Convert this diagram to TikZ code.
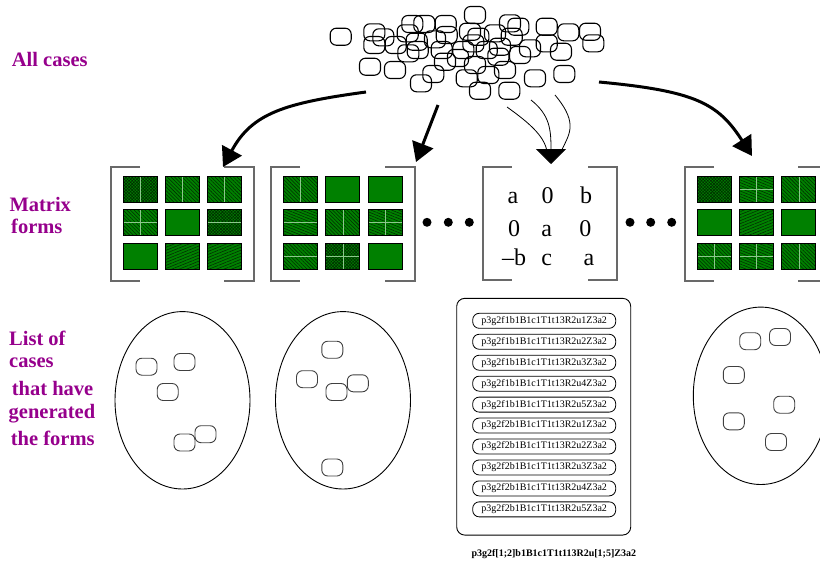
\documentclass[tikz,border=0pt]{standalone}
\usepackage{fontspec}
\setmainfont{Liberation Serif}
\usetikzlibrary{arrows.meta,patterns,patterns.meta,shapes.geometric}
\definecolor{cgreen}{RGB}{0,128,0}
\definecolor{cdark}{RGB}{0,45,0}
\definecolor{clight}{RGB}{140,200,140}
\definecolor{lblpurple}{RGB}{150,0,140}
\definecolor{brgray}{RGB}{105,105,105}
\begin{document}
\begin{tikzpicture}[x=1pt,y=-1pt,
  lbl/.style={anchor=base west,inner sep=0pt,text=lblpurple,font=\bfseries\fontsize{20.5}{23}\selectfont},
  cbox/.style={draw=black,line width=1.1pt,rounded corners=6pt,minimum width=21pt,minimum height=17pt,inner sep=0pt},
  ebox/.style={draw=black!75,line width=0.9pt,rounded corners=6pt,minimum width=21pt,minimum height=17pt,inner sep=0pt},
  cellbox/.style={draw=black,line width=0.8pt,minimum width=34pt,minimum height=26pt,inner sep=0pt,preaction={fill=cgreen}},
  fplain/.style={},
  fnw/.style={pattern={Lines[angle=-45,distance=2.6pt,line width=0.55pt]},pattern color=cdark},
  fsnw/.style={pattern={Lines[angle=-22,distance=2.6pt,line width=0.55pt]},pattern color=cdark},
  fsne/.style={pattern={Lines[angle=22,distance=2.8pt,line width=0.55pt]},pattern color=cdark},
  fhx/.style={pattern={Hatch[angle=45,distance=2.2pt,line width=0.6pt]},pattern color=cdark},
  lnone/.style={},
  lv/.style={path picture={\draw[clight,line width=0.5pt] (path picture bounding box.north)--(path picture bounding box.south);}},
  lh/.style={path picture={\draw[clight,line width=0.5pt] (path picture bounding box.west)--(path picture bounding box.east);}},
  lvh/.style={path picture={\draw[clight,line width=0.5pt] (path picture bounding box.north)--(path picture bounding box.south) (path picture bounding box.west)--(path picture bounding box.east);}},
  brk/.style={draw=brgray,line width=1.8pt},
  bigarrow/.style={line width=3pt,-{Triangle[width=22pt,length=19pt]}},
  thinline/.style={line width=0.8pt},
  dotnode/.style={circle,fill=black,minimum size=9pt,inner sep=0pt},
  mtx/.style={anchor=base,font=\fontsize{24}{28}\selectfont,inner sep=0pt},
  pill/.style={draw=black,line width=0.8pt,rounded corners=6.5pt,minimum width=143pt,minimum height=15pt,inner sep=0pt,font=\fontsize{10}{12}\selectfont},
  listbox/.style={draw=black,line width=0.9pt,rounded corners=8pt,minimum width=174pt,minimum height=236.7pt,inner sep=0pt},
  oval/.style={ellipse,draw=black,line width=0.9pt,minimum width=135pt,minimum height=177.4pt,inner sep=0pt}
]
\useasboundingbox (0,0) rectangle (820,565);

% labels
\node[lbl] (lab1) at (11.7,66) {All cases};
\node[lbl] (lab2) at (9.3,211.7) {Matrix};
\node[lbl] (lab3) at (11,233.3) {forms};
\node[lbl] (lab4) at (9,345) {List of};
\node[lbl] (lab5) at (9,367.7) {cases};
\node[lbl] (lab6) at (11.7,395) {that have};
\node[lbl] (lab7) at (8.5,418.3) {generated};
\node[lbl] (lab8) at (10.7,445.7) {the forms};

% cloud of cases
\foreach \p [count=\i] in {
 {340.7,36.7},{374.3,32.3},{383.3,37.3},{374.3,45},{395.7,45},{412.3,24},{424.3,24},{445.7,24},
 {407.7,33.3},{416.7,41.7},{408.3,53.3},{417.7,50},{435,39.3},{446.7,35},{441.7,50},{445,61.7},
 {370,66.7},{395,70},{433.3,74},{421,83.3},{463.3,50},{475,15},{466.7,78.3},
 {470,31.7},{478.3,36.7},{473.3,43.3},{495,33.3},{510,23.3},{518.3,26.7},{511.7,36.7},
 {486.7,50},{500,46.7},{498.3,56.7},{520,55},{530,48.3},{546.7,26.7},{568.3,32.3},{590,31.7},
 {593.3,43.3},{546.7,43.3},{561,51.7},{475,65},{488.3,75},{505,70},{535,78.3},{564.3,74},
 {480,90.7},{509.3,90.7},{458,58}}
 \node[cbox] (c\i) at (\p) {};

% matrix panel brackets
\draw[brk] (140,167) -- (111,167) -- (111,281) -- (140,281);
\draw[brk] (224,167) -- (254,167) -- (254,281) -- (224,281);
\draw[brk] (300,167) -- (271,167) -- (271,281) -- (300,281);
\draw[brk] (385,167) -- (415,167) -- (415,281) -- (385,281);
\draw[brk] (511.7,167) -- (482.7,167) -- (482.7,280) -- (511.7,280);
\draw[brk] (588,167) -- (617.3,167) -- (617.3,280) -- (588,280);
\draw[brk] (714,167) -- (685.3,167) -- (685.3,281) -- (714,281);
\draw[brk] (798,167) -- (828,167) -- (828,281) -- (798,281);

% panel 1 cells
\foreach \s/\l [count=\k from 0] in {fhx/lv,fnw/lv,fnw/lv,fnw/lvh,fplain/lnone,fhx/lh,fplain/lnone,fsne/lnone,fsne/lnone}{
  \pgfmathtruncatemacro\cc{mod(\k,3)}
  \pgfmathtruncatemacro\rr{\k/3}
  \node[cellbox,\s,\l] (pa\k) at ({140.3+\cc*42.1},{189+\rr*33.65}) {};
}
% panel 2 cells
\foreach \s/\l [count=\k from 0] in {fnw/lv,fplain/lnone,fplain/lnone,fsnw/lh,fnw/lv,fsnw/lvh,fnw/lh,fhx/lvh,fplain/lnone}{
  \pgfmathtruncatemacro\cc{mod(\k,3)}
  \pgfmathtruncatemacro\rr{\k/3}
  \node[cellbox,\s,\l] (pb\k) at ({300.3+\cc*42.5},{189+\rr*33.65}) {};
}
% panel 4 cells
\foreach \s/\l [count=\k from 0] in {fhx/lnone,fsnw/lvh,fnw/lv,fplain/lnone,fsne/lnone,fplain/lnone,fnw/lvh,fsnw/lvh,fnw/lv}{
  \pgfmathtruncatemacro\cc{mod(\k,3)}
  \pgfmathtruncatemacro\rr{\k/3}
  \node[cellbox,\s,\l] (pd\k) at ({714.5+\cc*42.15},{189+\rr*33.65}) {};
}

% explicit matrix
\node[mtx] (m11) at (513,203.5) {a};
\node[mtx] (m12) at (547.5,203.5) {0};
\node[mtx] (m13) at (586,203.5) {b};
\node[mtx] (m21) at (514,236.5) {0};
\node[mtx] (m22) at (546.7,236.5) {a};
\node[mtx] (m23) at (585.3,236.5) {0};
\node[mtx] (m31) at (514,265) {–b};
\node[mtx] (m32) at (546.7,265) {c};
\node[mtx] (m33) at (589,265) {a};

% ellipsis dots
\node[dotnode] (d1) at (427,222.3) {};
\node[dotnode] (d2) at (448.3,222.3) {};
\node[dotnode] (d3) at (469.3,222.3) {};
\node[dotnode] (d4) at (630,222.3) {};
\node[dotnode] (d5) at (650.7,222.3) {};
\node[dotnode] (d6) at (671.7,222.3) {};

% arrows
\coordinate (s1) at (366,92);
\coordinate (t1) at (223,167);
\coordinate (s2) at (438,105);
\coordinate (t2) at (416,162);
\coordinate (s3a) at (507,107);
\coordinate (s3b) at (531,100);
\coordinate (s3c) at (555,95);
\coordinate (j3a) at (547,152);
\coordinate (j3c) at (561,152);
\coordinate (t3) at (551,164);
\coordinate (s4) at (599,82);
\coordinate (t4) at (752,156);
\draw[bigarrow] (s1) .. controls (285,103) and (252,113) .. (t1);
\draw[bigarrow] (s2) -- (t2);
\draw[thinline] (s3a) .. controls (525,120) and (545,135) .. (j3a);
\draw[thinline] (s3c) .. controls (580,125) and (568,135) .. (j3c);
\draw[thinline,-{Triangle[width=30pt,length=15pt]}] (s3b) .. controls (550,115) and (551,130) .. (t3);
\draw[bigarrow] (s4) .. controls (695,91) and (718,103) .. (t4);

% ellipses with cases
\node[oval] (e1) at (182.5,400.3) {};
\node[oval] (e2) at (343,400.3) {};
\node[oval] (e3) at (760.8,395.8) {};
\foreach \p [count=\i] in {{146.5,366.7},{184.5,362},{167.7,392},{205.5,434.2},{184.5,442.5}}
  \node[ebox] (ea\i) at (\p) {};
\foreach \p [count=\i] in {{332.3,349.7},{307,379.2},{336.5,392},{357.8,383.3},{332.3,467.5}}
  \node[ebox] (eb\i) at (\p) {};
\foreach \p [count=\i] in {{750.2,341.2},{780,337},{733.8,375},{784.2,404.7},{733.8,421.3},{776,442}}
  \node[ebox] (ec\i) at (\p) {};

% list of cases
\node[listbox] (lst) at (543.7,416.7) {};
\foreach \t [count=\i from 0] in {p3g2f1b1B1c1T1t13R2u1Z3a2,p3g2f1b1B1c1T1t13R2u2Z3a2,p3g2f1b1B1c1T1t13R2u3Z3a2,p3g2f1b1B1c1T1t13R2u4Z3a2,p3g2f1b1B1c1T1t13R2u5Z3a2,p3g2f2b1B1c1T1t13R2u1Z3a2,p3g2f2b1B1c1T1t13R2u2Z3a2,p3g2f2b1B1c1T1t13R2u3Z3a2,p3g2f2b1B1c1T1t13R2u4Z3a2,p3g2f2b1B1c1T1t13R2u5Z3a2}
  \node[pill] (li\i) at (544.2,{320.8+\i*20.95}) {\t};
\node[anchor=base,inner sep=0pt,font=\bfseries\fontsize{10}{12}\selectfont] (summary) at (553.8,556) {p3g2f[1;2]b1B1c1T1t113R2u[1;5]Z3a2};
\end{tikzpicture}
\end{document}
